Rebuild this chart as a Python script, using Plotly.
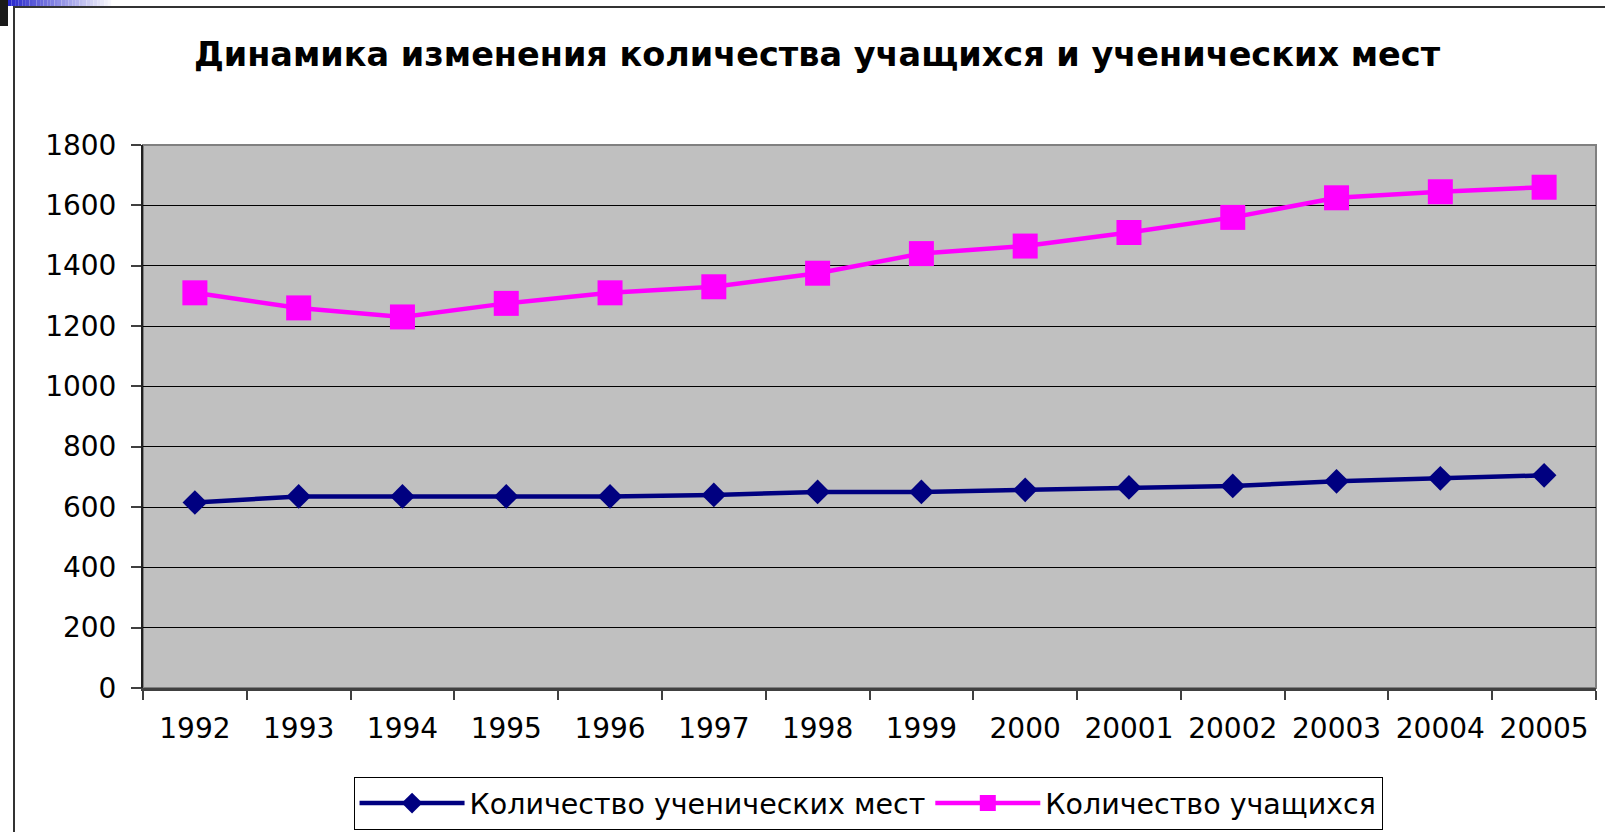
import plotly.graph_objects as go

years = ["1992", "1993", "1994", "1995", "1996", "1997", "1998", "1999",
         "2000", "20001", "20002", "20003", "20004", "20005"]
places = [615, 635, 635, 635, 635, 640, 650, 650, 657, 665, 670, 685, 695, 705]
students = [1310, 1260, 1230, 1275, 1310, 1330, 1375, 1440, 1465, 1510, 1560, 1625, 1645, 1660]
y_ticks = [0, 200, 400, 600, 800, 1000, 1200, 1400, 1600, 1800]

title_text = "Динамика изменения количества учащихся и ученических мест"
name_places = "Количество ученических мест"
name_students = "Количество учащихся"

W, H = 1605, 832
L, R, T, B = 143, 9, 145, 144

fig = go.Figure()
fig.add_trace(go.Scatter(
    x=years, y=places, name=name_places, mode="lines+markers",
    line=dict(color="#000080", width=4.5),
    marker=dict(symbol="diamond", size=19, color="#000080"),
))
fig.add_trace(go.Scatter(
    x=years, y=students, name=name_students, mode="lines+markers",
    line=dict(color="#FF00FF", width=4.5),
    marker=dict(symbol="square", size=25, color="#FF00FF"),
))

font = "DejaVu Sans, Liberation Sans, Arial, sans-serif"


def px_x(x):
    return (x - L) / (W - L - R)


def px_y(y):
    return (H - B - y) / (H - T - B)


shapes = []
# top-left gradient band
n = 30
x0, x1 = 8, 115
for i in range(n):
    t = i / (n - 1)
    r = int(40 + (255 - 40) * t)
    g = int(40 + (255 - 40) * t)
    b = int(205 + (255 - 205) * t)
    shapes.append(dict(type="rect", xref="paper", yref="paper",
                       x0=px_x(x0 + (x1 - x0) * i / n),
                       x1=px_x(x0 + (x1 - x0) * (i + 1) / n),
                       y0=px_y(0), y1=px_y(6),
                       line=dict(width=0), fillcolor=f"rgb({r},{g},{b})", layer="below"))

# dark block at top-left
shapes.append(dict(type="rect", xref="paper", yref="paper",
                   x0=px_x(0), x1=px_x(8), y0=px_y(0), y1=px_y(26),
                   line=dict(width=0), fillcolor="#1a1a1a"))
# frame lines
shapes.append(dict(type="line", xref="paper", yref="paper",
                   x0=px_x(13), x1=px_x(W), y0=px_y(7), y1=px_y(7),
                   line=dict(color="#333333", width=2)))
shapes.append(dict(type="line", xref="paper", yref="paper",
                   x0=px_x(14), x1=px_x(14), y0=px_y(7), y1=px_y(H),
                   line=dict(color="#333333", width=2)))
# plot area border (grey)
shapes.append(dict(type="rect", xref="paper", yref="paper",
                   x0=0, x1=1, y0=0, y1=1,
                   line=dict(color="#808080", width=2), layer="below"))

fig.update_layout(
    width=W, height=H,
    margin=dict(l=L, r=R, t=T, b=B, autoexpand=False),
    paper_bgcolor="white",
    plot_bgcolor="#C0C0C0",
    font=dict(family=font, size=28, color="black"),
    title=dict(text="<b>" + title_text + "</b>", x=817 / W, xanchor="center",
               y=1 - 54 / H, yanchor="middle", xref="container",
               font=dict(family=font, size=33.5, color="black")),
    showlegend=True,
    legend=dict(orientation="h", x=0.499, xanchor="center", y=px_y(777), yanchor="top",
                bordercolor="black", borderwidth=1, bgcolor="white",
                font=dict(family=font, size=28.5, color="black"),
                itemwidth=105, tracegroupgap=0),
    shapes=shapes,
)
fig.update_xaxes(
    type="category", tickson="boundaries", ticks="outside", ticklen=9,
    tickcolor="#404040", tickwidth=2, showgrid=False,
    showline=True, linecolor="#404040", linewidth=3,
    ticklabelstandoff=13, tickfont=dict(size=28),
    range=[-0.5, len(years) - 0.5], fixedrange=True,
)
fig.update_yaxes(
    range=[0, 1800], tickvals=y_ticks, ticks="outside", ticklen=10,
    tickcolor="#404040", tickwidth=2,
    showgrid=True, gridcolor="black", gridwidth=1,
    showline=True, linecolor="#202020", linewidth=2,
    ticklabelstandoff=9, tickfont=dict(size=28), zeroline=False,
)

fig.write_html("out.html", config={"displayModeBar": False},
               post_script="document.body.style.margin='0';")
